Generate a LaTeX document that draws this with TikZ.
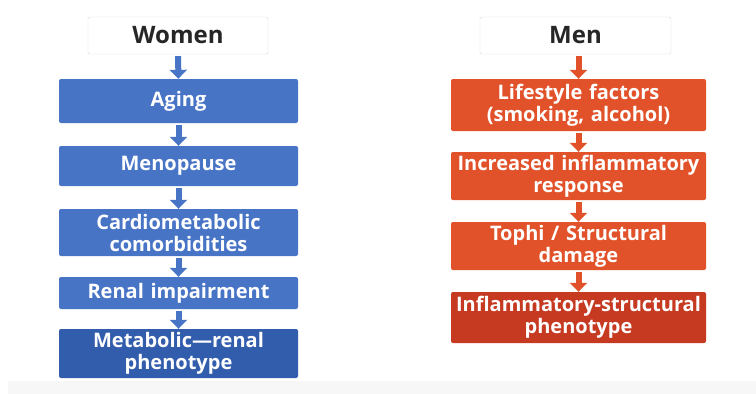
\documentclass[tikz,border=0pt]{standalone}
\usepackage{fontspec}
\setmainfont{Open Sans}
\usetikzlibrary{arrows.meta}

\definecolor{wblue}{RGB}{72,116,198}
\definecolor{wdark}{RGB}{50,92,172}
\definecolor{mred}{RGB}{226,82,42}
\definecolor{mdark}{RGB}{198,58,34}

\tikzset{
  headbox/.style={draw=gray!30, fill=white, rounded corners=2pt, text=black!85,
    font=\fontsize{24}{24}\selectfont\bfseries, inner sep=0pt},
  wbox/.style={fill=wblue, rounded corners=2pt, text=white, minimum width=239pt,
    text width=235pt, align=center, inner sep=0pt,
    font=\fontsize{20}{22}\selectfont\bfseries},
  mbox/.style={wbox, fill=mred, minimum width=255pt, text width=251pt},
  wflow/.style={-{Triangle[width=17pt,length=9pt]}, line width=6pt, draw=wblue, shorten <=2pt},
  mflow/.style={wflow, draw=mred}
}

\begin{document}
\begin{tikzpicture}[x=1pt,y=-1pt]
                \fill[white] (0,0) rectangle (756,394);
                \fill[gray!6] (8,381) rectangle (756,394);
                % women
                \node(women) at(178, 35.5) [headbox, minimum width=180pt, minimum height=37pt] {Women};
                \node(aging) at(178.5, 101) [wbox, minimum height=44pt] {Aging};
                \node(meno)  at(178.5, 166) [wbox, minimum height=40pt] {Menopause};
                \node(cardio) at(178.5, 232.5) [wbox, minimum height=47pt] {Cardiometabolic\\comorbidities};
                \node(renal) at(178.5, 293) [wbox, minimum height=32pt] {Renal impairment};
                \node(metab) at(178.5, 353.5) [wbox, fill=wdark, minimum height=49pt] {Metabolic---renal\\phenotype};
                \draw[wflow] (women) -- (aging);
                \draw[wflow] (aging) -- (meno);
                \draw[wflow] (meno) -- (cardio);
                \draw[wflow] (cardio) -- (renal);
                \draw[wflow] (renal) -- (metab);
                % men
                \node(men) at(575.5, 35.5) [headbox, minimum width=191pt, minimum height=37pt] {Men};
                \node(life) at(578.5, 105) [mbox, minimum height=52pt] {Lifestyle factors\\(smoking, alcohol)};
                \node(infl) at(578.5, 176) [mbox, minimum height=48pt] {Increased inflammatory\\response};
                \node(tophi) at(578.5, 246) [mbox, minimum height=48pt] {Tophi / Structural\\damage};
                \node(pheno) at(578.5, 317.5) [mbox, fill=mdark, minimum height=51pt] {Inflammatory-structural\\phenotype};
                \draw[mflow] (men.south -| life.north) -- (life);
                \draw[mflow] (life) -- (infl);
                \draw[mflow] (infl) -- (tophi);
                \draw[mflow] (tophi) -- (pheno);
\end{tikzpicture}
\end{document}
